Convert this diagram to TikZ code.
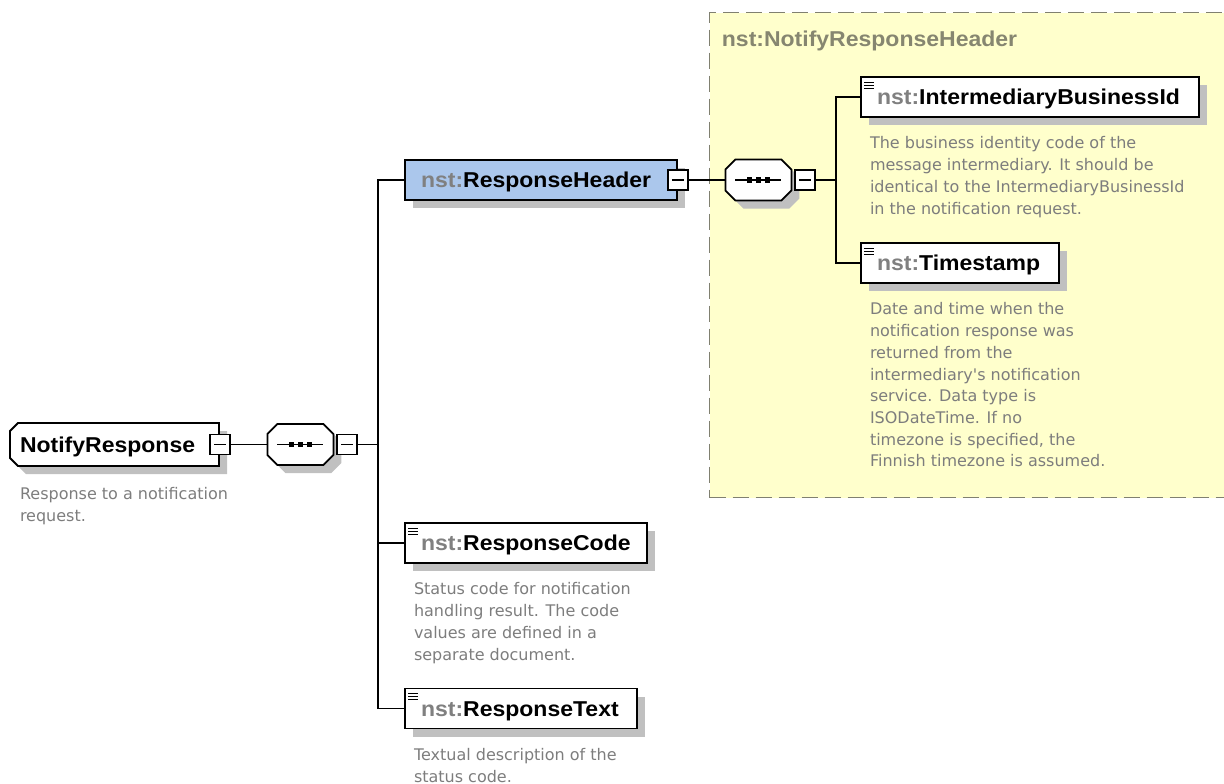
\documentclass[tikz,border=0pt]{standalone}
\usepackage{fontspec}
\setmainfont{Liberation Sans}
\newfontfamily\lblfont{Liberation Sans}[FakeStretch=1.07]
\newfontfamily\descfont{DejaVu Sans}
\usepackage{xcolor}
\usetikzlibrary{positioning,shapes.misc,shadows}
\definecolor{nstgray}{RGB}{128,128,128}
\definecolor{descgray}{RGB}{125,125,125}
\definecolor{grplabel}{RGB}{134,134,112}
\definecolor{hdrblue}{RGB}{171,199,236}
\definecolor{grpyellow}{RGB}{255,255,204}
\definecolor{grpline}{RGB}{128,128,112}
\definecolor{shadowgray}{RGB}{192,192,192}
\newcommand{\nst}{{\color{nstgray}nst:}}

\begin{document}
\begin{tikzpicture}[x=1pt, y=-1pt, line width=1.8pt,
    boxshadow/.style={drop shadow={shadow xshift=8pt, shadow yshift=-8pt, fill=shadowgray, opacity=1}},
    lblfont/.style={font=\lblfont\bfseries\fontsize{21.5}{24}\selectfont},
    elembox/.style={rectangle, draw, fill=white, boxshadow, lblfont, minimum height=40pt, inner xsep=16pt, inner ysep=0pt, align=left, text height=20pt, text depth=4.6pt},
    simplebox/.style={elembox, path picture={
        \foreach \dy in {5,8,11}
          \draw[line width=0.9pt] ([xshift=3pt,yshift=-\dy pt]path picture bounding box.north west) -- ++(10pt,0pt);}},
    topbox/.style={chamfered rectangle, chamfered rectangle corners={north west,south west}, chamfered rectangle sep=4pt, draw, fill=white, boxshadow, lblfont, minimum width=209pt, minimum height=43pt, inner xsep=6pt, inner ysep=0pt, text width=189pt, align=left, text height=20pt, text depth=4.6pt},
    seqbox/.style={chamfered rectangle, chamfered rectangle sep=5pt, draw, fill=white, boxshadow, inner sep=0pt, text width=56pt, text height=15.5pt, text depth=15.5pt, path picture={
        \coordinate (pc) at (path picture bounding box.center);
        \draw[line width=1.3pt] ([xshift=-23pt]pc) -- ([xshift=23pt]pc);
        \foreach \dx in {-9,0,9}
          \fill[black] ([xshift=\dx pt]pc) ++(-2.6pt,-2.6pt) rectangle ++(5.2pt,5.2pt);}},
    minusbox/.style={rectangle, draw, fill=white, line width=1.3pt, minimum size=20pt, inner sep=0pt, path picture={
        \draw[line width=1.3pt] ([xshift=4pt]path picture bounding box.west) -- ([xshift=-4pt]path picture bounding box.east);}},
    grpbox/.style={rectangle, draw=grpline, fill=grpyellow, line width=1.2pt, dash pattern=on 16pt off 7pt, inner sep=0pt},
    desctext/.style={anchor=north west, inner sep=0pt, align=left, text=descgray, font=\descfont\fontsize{16}{21.7}\selectfont}]
    \useasboundingbox (0,0) rectangle (1224,784);

    % group of the header type
    \node (hdrgrp) [grpbox, minimum width=531pt, minimum height=485pt, anchor=north west] at (709,12) {};
    \node (hdrlbl) [lblfont, text=grplabel, anchor=base west, inner sep=0pt] at (721,47) {nst:NotifyResponseHeader};

    % root element
    \node (nr) [topbox] at (114.5,444.5) {NotifyResponse};
    \node (nrm) [minusbox] at (nr.east) {};
    \node (seqa) [seqbox, right=36pt of nrm] {};
    \node (seqam) [minusbox, right=2pt of seqa] {};
    \coordinate (ta) at ([xshift=20pt]seqam.east);
    \node (nrdesc) [desctext] at ([xshift=10pt,yshift=-20pt]nr.west |- nr.south) {Response to a notification\\request.};

    % children of the root
    \node (rh) [elembox, fill=hdrblue, text width=240pt] at (541,180) {\nst ResponseHeader};
    \node (rhm) [minusbox] at (rh.east) {};
    \node (rc) [simplebox, text width=210pt] at (526,543) {\nst ResponseCode};
    \node (rcdesc) [desctext] at ([xshift=9pt,yshift=-18pt]rc.south west) {Status code for notification\\handling result. The code\\values are defined in a\\separate document.};
    \node (rt) [simplebox, text width=200pt] at (521,708.5) {\nst ResponseText};
    \node (rtdesc) [desctext] at ([xshift=9pt,yshift=-18pt]rt.south west) {Textual description of the\\status code.};

    % children of the header
    \node (seqb) [seqbox, right=36pt of rhm] {};
    \node (seqbm) [minusbox, right=2pt of seqb] {};
    \coordinate (tb) at ([xshift=20pt]seqbm.east);
    \node (ib) [simplebox, text width=306pt] at (1030,97) {\nst IntermediaryBusinessId};
    \node (ibdesc) [desctext] at ([xshift=9pt,yshift=-18pt]ib.south west) {The business identity code of the\\message intermediary. It should be\\identical to the IntermediaryBusinessId\\in the notification request.};
    \node (ts) [simplebox, text width=166pt] at (960,263) {\nst Timestamp};
    \node (tsdesc) [desctext] at ([xshift=9pt,yshift=-18pt]ts.south west) {Date and time when the\\notification response was\\returned from the\\intermediary's notification\\service. Data type is\\ISODateTime. If no\\timezone is specified, the\\Finnish timezone is assumed.};

    % connectors
    \draw (nrm) -- (seqa);
    \draw (seqam) -- (ta);
    \draw (rh.west) -| (ta);
    \draw (rc.west) -| (ta);
    \draw (rt.west) -| (ta);
    \draw (rhm) -- (seqb);
    \draw (seqbm) -- (tb);
    \draw (ib.west) -| (tb);
    \draw (ts.west) -| (tb);
\end{tikzpicture}
\end{document}
